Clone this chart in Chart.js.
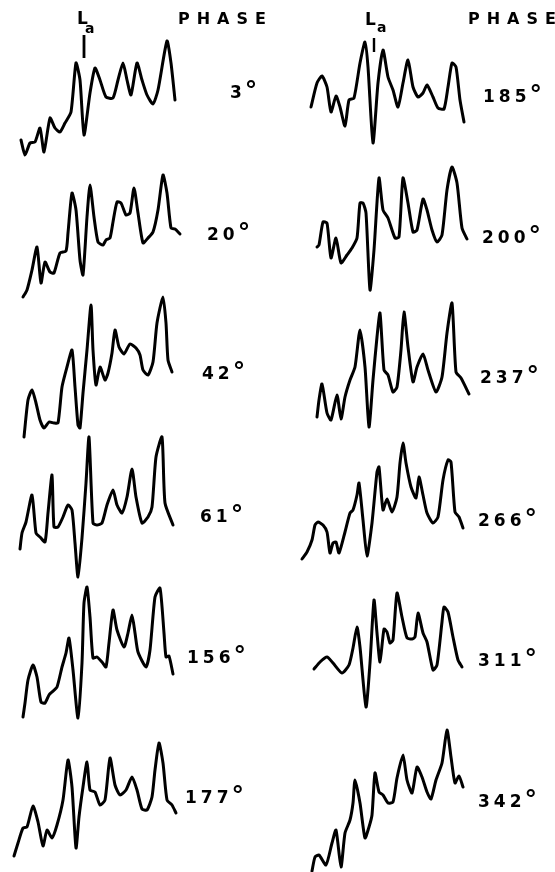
<!DOCTYPE html>
<html>
<head>
<meta charset="utf-8">
<script src="https://cdn.jsdelivr.net/npm/chart.js@4"></script>
<style>
  body { margin: 0; background: #fff; }
  #wrap { position: relative; width: 555px; height: 872px; overflow: hidden; }
  #plot { position: absolute; left: 0; top: 0; }
  .lbl { position: absolute; font-family: "DejaVu Sans", sans-serif; font-weight: bold; color: #000; line-height: 1; white-space: nowrap; }
  .phase { font-size: 16px; letter-spacing: 7px; }
  .deg { font-size: 17px; letter-spacing: 4px; transform: translateY(-50%); }
  .deg span { font-size: 25px; line-height: 0; position: relative; top: 1px; margin-left: -1px; }
  .L { font-size: 17px; }
  .a { font-size: 14px; }
</style>
</head>
<body>
<div id="wrap">
  <canvas id="plot" width="555" height="872"></canvas>
</div>
<script>
// phase labels, left column then right column
const phasesLeft = ["3", "20", "42", "61", "156", "177"];
const phasesRight = ["185", "200", "237", "266", "311", "342"];

// each trace: energy (x along the trace) and intensity (height above row base)
const e3 = [21,25,30,35,40,44,50,55,60,65,71,76,80,84,90,95,100,106,113,118,123,127,131,137,142,147,153,158,167,171,175];
const i3 = [20,5,17,18,32,8,42,32,28,37,48,97,80,25,67,92,80,63,62,80,97,80,65,97,80,65,56,70,119,97,60];

const e20 = [23,27,32,37,41,45,50,54,60,66,68,72,76,80,83,87,90,94,98,103,106,110,113,117,121,126,130,134,138,143,148,153,158,163,167,171,175,180];
const i20 = [3,10,30,53,17,38,28,27,47,49,67,107,90,40,25,83,115,83,58,55,60,62,78,98,97,85,87,112,87,57,62,68,90,125,107,72,71,66];

const e42 = [24,28,32,36,40,44,49,54,58,62,67,72,75,78,80,83,87,91,93,96,100,105,108,112,115,119,124,130,136,140,143,148,153,157,163,166,168,172];
const i42 = [3,40,50,37,20,12,18,17,17,53,73,90,53,15,12,47,90,135,90,55,73,60,67,87,110,93,86,96,92,85,70,65,78,117,143,117,80,68];

const e61 = [20,22,26,32,36,40,45,48,52,54,58,63,68,72,75,78,82,86,89,93,97,102,107,113,117,122,127,132,136,142,148,152,156,162,165,173];
const i61 = [31,47,58,85,47,43,38,67,105,53,53,63,75,70,37,3,42,97,143,57,55,57,75,90,75,67,83,111,83,57,63,73,123,143,77,55];

const e156 = [23,25,28,33,37,41,45,49,52,57,62,66,69,73,78,82,84,87,90,93,97,102,106,109,113,117,124,128,132,135,138,146,150,155,160,164,166,169,173];
const i156 = [3,17,40,55,43,18,17,25,28,33,53,67,82,50,2,57,117,133,103,62,63,58,53,77,110,90,73,87,105,87,68,53,70,123,132,87,63,64,46];

const e177 = [14,18,23,27,33,38,43,47,52,57,63,68,72,76,79,83,87,90,95,100,105,110,115,120,126,132,137,142,147,152,155,159,163,167,172,176];
const i177 = [16,29,44,45,66,50,26,42,34,47,72,112,85,24,55,85,110,82,80,67,72,114,87,77,82,95,82,63,62,75,102,129,109,72,67,59];

const e185 = [21,27,32,37,41,46,50,55,59,64,70,75,78,83,88,93,98,103,108,113,118,123,128,133,137,143,148,154,158,162,166,170,174];
const i185 = [53,77,84,73,48,64,53,34,60,62,97,118,93,17,77,110,83,70,53,77,100,73,63,67,75,63,52,51,73,97,93,60,38];

const e200 = [27,29,33,37,41,46,51,57,62,67,70,73,76,80,84,89,93,98,105,109,113,118,123,127,133,137,142,147,152,157,162,167,172,177];
const i200 = [53,55,78,77,42,62,37,45,52,62,97,97,87,10,50,122,90,82,62,63,122,97,68,70,101,90,70,58,65,110,133,117,72,61];

const e237 = [27,29,32,37,41,47,51,55,60,65,70,75,79,83,87,90,94,98,103,107,111,114,118,123,127,133,138,146,152,157,162,166,171,179];
const i237 = [23,40,56,27,20,45,21,43,60,73,110,73,13,60,103,127,70,65,48,53,90,128,93,58,73,86,70,48,63,107,137,68,62,46];

const e266 = [12,17,22,25,28,33,37,40,43,46,49,55,60,63,67,69,73,77,82,87,89,93,97,102,107,110,113,116,121,126,129,133,137,143,148,153,158,161,165,169,173];
const i266 = [21,28,40,55,58,55,48,27,37,38,27,48,67,70,85,97,60,24,57,108,113,70,81,68,83,117,137,117,93,82,103,85,67,57,63,100,120,118,68,63,52];

const e311 = [24,30,37,43,52,59,63,67,70,76,80,84,87,90,94,97,100,103,107,112,117,122,125,128,133,137,143,147,152,154,158,163,168,172];
const i311 = [51,58,63,57,47,55,72,93,73,13,57,120,87,58,91,88,77,80,127,103,82,81,83,107,87,78,50,55,98,113,108,83,60,53];

const e342 = [22,25,29,36,42,46,51,55,60,63,65,70,75,79,82,85,89,93,98,103,107,113,117,122,127,132,137,141,146,152,157,161,165,169,173];
const i342 = [1,15,17,7,29,42,5,39,52,69,92,69,34,45,57,99,80,77,69,70,94,117,92,79,105,95,80,73,92,109,142,115,89,96,85];

// L_a marker energy and its extent in intensity units (top row only)
const markerEnergy = [84, 84];
const markerLeft = [125, 102];
const markerRight = [122, 108];

// layout: column origin and row base in page pixels
const colLeft = [0, 290];
const rowBase = [160, 300, 440, 580, 720, 872];

const traces = [
  [e3, i3, 0, 0], [e20, i20, 0, 1], [e42, i42, 0, 2], [e61, i61, 0, 3], [e156, i156, 0, 4], [e177, i177, 0, 5],
  [e185, i185, 1, 0], [e200, i200, 1, 1], [e237, i237, 1, 2], [e266, i266, 1, 3], [e311, i311, 1, 4], [e342, i342, 1, 5]
];

function pts(es, is, col, row) {
  return es.map((e, k) => ({ x: colLeft[col] + e, y: rowBase[row] - is[k] }));
}

const datasets = traces.map(t => ({
  data: pts(t[0], t[1], t[2], t[3]),
  showLine: true,
  borderColor: "#000",
  borderWidth: 3,
  pointRadius: 0,
  tension: 0.2,
  borderJoinStyle: "round",
  borderCapStyle: "round",
  clip: false
}));
datasets.push({ data: pts(markerEnergy, markerLeft, 0, 0), showLine: true, borderColor: "#000", borderWidth: 2.8, pointRadius: 0, clip: false });
datasets.push({ data: pts(markerEnergy, markerRight, 1, 0), showLine: true, borderColor: "#000", borderWidth: 2.4, pointRadius: 0, clip: false });

new Chart(document.getElementById("plot"), {
  type: "scatter",
  data: { datasets: datasets },
  options: {
    responsive: false,
    animation: false,
    events: [],
    layout: { padding: 0 },
    plugins: { legend: { display: false }, tooltip: { enabled: false } },
    scales: {
      x: { type: "linear", min: 0, max: 555, display: false },
      y: { type: "linear", min: 0, max: 872, reverse: true, display: false }
    }
  }
});

// text labels
const wrap = document.getElementById("wrap");
function addLabel(cls, html, left, top) {
  const d = document.createElement("div");
  d.className = "lbl " + cls;
  d.innerHTML = html;
  d.style.left = left + "px";
  d.style.top = top + "px";
  wrap.appendChild(d);
}
addLabel("phase", "PHASE", 178, 11);
addLabel("phase", "PHASE", 468, 11);
addLabel("L", "L", 77, 10);
addLabel("a", "a", 85, 21);
addLabel("L", "L", 365, 11);
addLabel("a", "a", 377, 20);

const leftX = [230, 207, 202, 200, 187, 185];
const leftY = [92, 234, 373, 516, 657, 797];
const rightX = [483, 482, 480, 478, 478, 478];
const rightY = [96, 237, 377, 520, 660, 801];
phasesLeft.forEach((p, k) => addLabel("deg", p + "<span>°</span>", leftX[k], leftY[k]));
phasesRight.forEach((p, k) => addLabel("deg", p + "<span>°</span>", rightX[k], rightY[k]));
</script>
</body>
</html>
